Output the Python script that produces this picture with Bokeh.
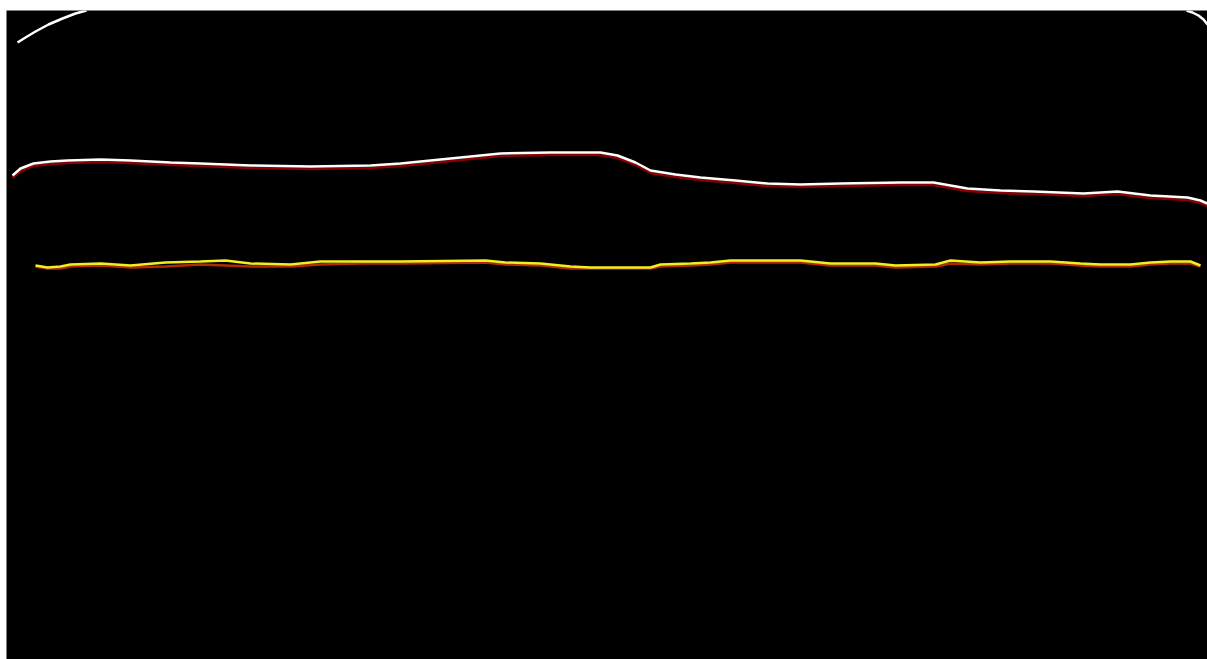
from bokeh.plotting import figure
from bokeh.models import Range1d
from bokeh.embed import file_html
from bokeh.resources import INLINE

# Column position across the scan and depth of each traced boundary
top_left_x = [17, 25, 35, 48, 62, 75, 86]
top_left_y = [42, 37, 31, 24, 18, 13, 10]
top_right_x = [1186, 1192, 1198, 1203, 1207]
top_right_y = [10, 12, 15, 19, 24]

upper_x = [12, 20, 33, 50, 67, 100, 130, 170, 200, 250, 310, 370, 400, 450, 500, 550,
           600, 617, 635, 650, 675, 700, 735, 767, 800, 840, 900, 933, 967, 1000,
           1033, 1083, 1117, 1150, 1187, 1200, 1207]
upper_y = [175, 168, 163, 161, 160, 159, 160, 162, 163, 165, 166, 165, 163, 158, 153, 152,
           152, 155, 162, 170, 174, 177, 180, 183, 184, 183, 182, 182, 188, 190,
           191, 193, 191, 195, 197, 200, 203]
upper_red_y = [v + 2.5 for v in upper_y]

lower_x = [35, 47, 60, 70, 100, 130, 165, 200, 225, 250, 290, 320, 360, 400, 485, 505,
           540, 570, 590, 650, 660, 690, 710, 730, 775, 800, 830, 875, 895, 935, 950,
           980, 1010, 1050, 1080, 1100, 1130, 1150, 1170, 1190, 1200]
lower_y = [265, 267, 266, 264, 263, 265, 262, 261, 260, 263, 264, 261, 261, 261, 260, 262,
           263, 266, 267, 267, 264, 263, 262, 260, 260, 260, 263, 263, 265, 264, 260,
           262, 261, 261, 263, 264, 264, 262, 261, 261, 265]
lower_red_y = [266, 268, 268, 266, 265, 267, 266, 264, 265, 266, 266, 264, 263, 263, 262, 264,
               265, 268, 268, 268, 266, 265, 264, 262, 262, 262, 265, 265, 267, 266, 263,
               264, 263, 263, 265, 266, 266, 264, 263, 263, 266]

p = figure(width=1207, height=659, output_backend="svg", toolbar_location=None,
           x_range=Range1d(6, 1207), y_range=Range1d(659, 10),
           background_fill_color="black", border_fill_color="white",
           min_border_left=6, min_border_right=0, min_border_bottom=0, min_border_top=10)
p.axis.visible = False
p.grid.visible = False
p.outline_line_color = None

p.line(top_left_x, top_left_y, line_color="white", line_width=2.5)
p.line(top_right_x, top_right_y, line_color="white", line_width=2.5)
p.line(upper_x, upper_red_y, line_color="#8b0000", line_width=2.5)
p.line(upper_x, upper_y, line_color="white", line_width=2.5)
p.line(lower_x, lower_red_y, line_color="#b22a00", line_width=2.5)
p.line(lower_x, lower_y, line_color="#f0f020", line_width=2.5)

open("out.html", "w").write(file_html(p, INLINE))
